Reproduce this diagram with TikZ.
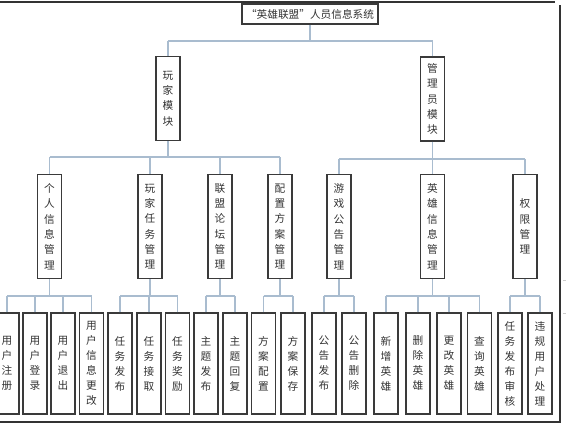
\documentclass[tikz,border=0pt]{standalone}
\usepackage{fontspec}
\setmainfont{Noto Sans CJK SC}
\usepackage{xcolor}
\definecolor{linkc}{HTML}{A9BCCF}
\definecolor{boxc}{HTML}{3A3A3A}
\definecolor{txtc}{HTML}{333333}
\tikzset{
	box/.style={draw=boxc, line width=0.9pt, fill=white, inner sep=0pt, align=center, text=txtc, font=\fontsize{8}{11.5}\selectfont},
	topbox/.style={box, minimum width=102pt, minimum height=15pt},
	modbox/.style={box, minimum width=18pt, minimum height=63pt},
	subbox/.style={box, minimum width=18pt, minimum height=78pt},
	leafbox/.style={box, minimum width=18pt, minimum height=75.75pt, font=\fontsize{8}{11.25}\selectfont},
	link/.style={draw=linkc, line width=0.8pt},
	frame/.style={draw=black!80, line width=1.2pt}
}

\begin{document}
\begin{tikzpicture}[x=0.75pt, y=-0.75pt]
		\useasboundingbox (0,0) rectangle (566,425);
		\draw[frame] (0,2) -- (555,2);
		\draw[frame] (560,5) -- (560,422) -- (0,422);
		\draw[gray!40, line width=0.6pt] (563,280) -- (566,280) (563,313) -- (566,313);

		\coordinate (b0) at (0,41);
		\coordinate (b1) at (0,157);
		\coordinate (b2) at (0,159);
		\coordinate (b3) at (0,296);

		\node[topbox] (root) at (310,14) {“英雄联盟”人员信息系统};
		\node[modbox] (play) at (168,98.5) {玩\\家\\模\\块};
		\node[modbox] (admin) at (432.5,99) {管\\理\\员\\模\\块};

		\foreach \n/\x/\t in {pinfo/49.5/{个\\人\\信\\息\\管\\理}, ptask/150/{玩\\家\\任\\务\\管\\理},
			forum/220/{联\\盟\\论\\坛\\管\\理}, scheme/280/{配\\置\\方\\案\\管\\理},
			notice/339/{游\\戏\\公\\告\\管\\理}, hero/432.5/{英\\雄\\信\\息\\管\\理}, perm/525/{权\\限\\管\\理}}
			\node[subbox] (\n) at (\x,226.5) {\t};

		\foreach \n/\x/\t in {reg/7/{用\\户\\注\\册}, login/35/{用\\户\\登\\录}, logout/63/{用\\户\\退\\出},
			modify/91.5/{用\\户\\信\\息\\更\\改}, tpub/120/{任\\务\\发\\布}, ttake/149/{任\\务\\接\\取},
			trew/177.5/{任\\务\\奖\\励}, spub/206/{主\\题\\发\\布}, srep/235/{主\\题\\回\\复},
			scfg/263.5/{方\\案\\配\\置}, ssave/293/{方\\案\\保\\存}, npub/324/{公\\告\\发\\布},
			ndel/354/{公\\告\\删\\除}, hadd/386/{新\\增\\英\\雄}, hdel/418/{删\\除\\英\\雄},
			hmod/449/{更\\改\\英\\雄}, hqry/479.5/{查\\询\\英\\雄}, taudit/510/{任\\务\\发\\布\\审\\核},
			vio/540/{违\\规\\用\\户\\处\\理}}
			\node[leafbox] (\n) at (\x,363.5) {\t};

		\draw[link] (root.south) -- (root.south |- b0) (play.north |- b0) -- (admin.north |- b0);
		\foreach \c in {play,admin}
			\draw[link] (\c.north) -- (\c.north |- b0);

		\draw[link] (play.south) -- (play.south |- b1) (pinfo.north |- b1) -- (scheme.north |- b1);
		\foreach \c in {pinfo,ptask,forum,scheme}
			\draw[link] (\c.north) -- (\c.north |- b1);
		\draw[link] (admin.south) -- (admin.south |- b2) (notice.north |- b2) -- (perm.north |- b2);
		\foreach \c in {notice,hero,perm}
			\draw[link] (\c.north) -- (\c.north |- b2);

		\foreach \p/\f/\l/\k in {pinfo/reg/modify/{reg,login,logout,modify}, ptask/tpub/trew/{tpub,ttake,trew},
			forum/spub/srep/{spub,srep}, scheme/scfg/ssave/{scfg,ssave}, notice/npub/ndel/{npub,ndel},
			hero/hadd/hqry/{hadd,hdel,hmod,hqry}, perm/taudit/vio/{taudit,vio}}{
			\draw[link] (\p.south) -- (\p.south |- b3) (\f.north |- b3) -- (\l.north |- b3);
			\foreach \c in \k
				\draw[link] (\c.north) -- (\c.north |- b3);
		}
	\end{tikzpicture}
\end{document}
